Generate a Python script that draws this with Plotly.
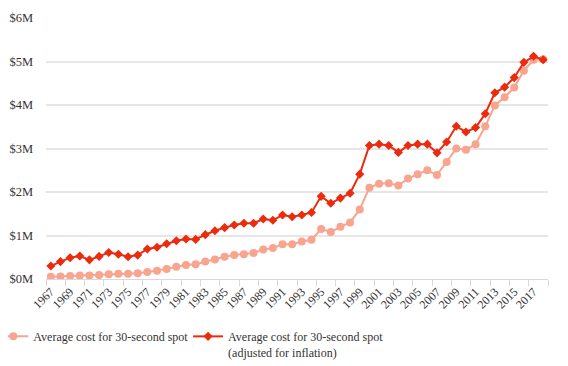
import plotly.graph_objects as go

years = list(range(1967, 2019))

nominal = [0.05, 0.06, 0.07, 0.08, 0.08, 0.09, 0.11, 0.12, 0.12, 0.13,
           0.16, 0.19, 0.23, 0.28, 0.32, 0.34, 0.40, 0.45, 0.51, 0.55,
           0.57, 0.60, 0.68, 0.71, 0.80, 0.80, 0.86, 0.90, 1.15, 1.08,
           1.20, 1.30, 1.60, 2.10, 2.19, 2.20, 2.15, 2.31, 2.41, 2.50,
           2.39, 2.69, 3.00, 2.97, 3.10, 3.51, 3.99, 4.18, 4.40, 4.79,
           5.04, 5.05]

adjusted = [0.30, 0.40, 0.49, 0.53, 0.44, 0.52, 0.61, 0.57, 0.51, 0.55,
            0.69, 0.73, 0.81, 0.88, 0.92, 0.91, 1.02, 1.11, 1.18, 1.24,
            1.28, 1.28, 1.38, 1.35, 1.47, 1.43, 1.47, 1.53, 1.90, 1.74,
            1.86, 1.97, 2.41, 3.07, 3.10, 3.07, 2.91, 3.07, 3.10, 3.10,
            2.90, 3.15, 3.51, 3.38, 3.48, 3.80, 4.28, 4.41, 4.63, 4.98,
            5.12, 5.04]

name_nominal = "Average cost for 30-second spot"
name_adjusted = "Average cost for 30-second spot<br>(adjusted for inflation)"

y_ticks = [0, 1, 2, 3, 4, 5, 6]
y_labels = ["$0M", "$1M", "$2M", "$3M", "$4M", "$5M", "$6M"]
x_ticks = list(range(1967, 2018, 2))

FONT = "Liberation Serif"

fig = go.Figure()
fig.add_trace(go.Scatter(
    x=years, y=nominal, name=name_nominal, mode="lines+markers",
    line=dict(color="#F8A48E", width=2),
    marker=dict(color="#F8A48E", size=8, symbol="circle"),
    legend="legend",
))
fig.add_trace(go.Scatter(
    x=years, y=adjusted, name=name_adjusted, mode="lines+markers",
    line=dict(color="#EC2A0E", width=2),
    marker=dict(color="#EC2A0E", size=7, symbol="diamond"),
    legend="legend2",
))

fig.update_layout(
    width=560, height=358,
    margin=dict(l=38, r=20, t=10, b=87, autoexpand=False),
    paper_bgcolor="white", plot_bgcolor="white",
    font=dict(family=FONT, color="#333333", size=12),
    showlegend=True,
    legend=dict(orientation="h", x=-0.105, xanchor="left", y=-0.165, yanchor="top",
                font=dict(family=FONT, size=12, color="#333333"), valign="top",
                bgcolor="rgba(0,0,0,0)"),
    legend2=dict(orientation="h", x=0.283, xanchor="left", y=-0.165, yanchor="top",
                 font=dict(family=FONT, size=12, color="#333333"), valign="top",
                 bgcolor="rgba(0,0,0,0)"),
    xaxis=dict(
        range=[1966.5, 2018.5], tickmode="array", tickvals=x_ticks,
        ticktext=[str(v) for v in x_ticks], tickangle=-45,
        tickfont=dict(family=FONT, size=12, color="#333333"),
        showgrid=False, zeroline=False, showline=True, linecolor="#d9d9d9",
        ticks="",
        minor=dict(tick0=1966.5, dtick=2, ticks="outside", ticklen=6,
                   tickcolor="#d9d9d9", showgrid=False),
    ),
    yaxis=dict(
        range=[0, 6.0], tickmode="array", tickvals=y_ticks, ticktext=y_labels,
        tickfont=dict(family=FONT, size=12.5, color="#333333"),
        showgrid=True, gridcolor="#e6e6e6", gridwidth=1.5, zeroline=False,
        showline=False, ticklabelstandoff=12,
    ),
)

fig.write_html("out.html")
